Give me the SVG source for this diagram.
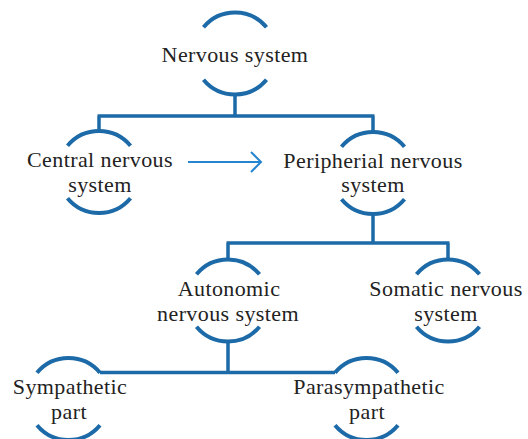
<svg xmlns="http://www.w3.org/2000/svg" xmlns:xlink="http://www.w3.org/1999/xlink" width="528" height="439" viewBox="0 0 528 439">
<style>
.br{fill:none;stroke:#1d6aa8;stroke-width:4;stroke-linecap:butt}
.cn{fill:none;stroke:#1d6aa8;stroke-width:3.5}
.ar{fill:none;stroke:#2784cf;stroke-width:2}
text{font-family:"Liberation Serif","Times New Roman",serif;font-size:22px;letter-spacing:0.4px;fill:#222;text-anchor:middle}
</style>
<defs>
<path id="bracket" d="M-31.5 -26.2 A41 41 0 0 1 31.5 -26.2 M-31.5 26.2 A41 41 0 0 0 31.5 26.2"/>
</defs>
<rect width="528" height="439" fill="#fff"/>
<g id="connectors">
<path class="cn" d="M235 94.5V116M97.5 116H374.5M99 116V131M373 116V132"/>
<path class="cn" d="M373 214V243M226.5 243H449.5M228 243V259.5M448 243V259.5"/>
<path class="cn" d="M228 341.5V372.5M100 372.5H335"/>
<path class="ar" d="M188 162H261M251 152L261 162L251 172"/>
</g>
<g id="n-nervous">
<use xlink:href="#bracket" class="br" x="235" y="53.5"/>
<text x="235" y="61.5">Nervous system</text>
</g>
<g id="n-central">
<use xlink:href="#bracket" class="br" x="99" y="172"/>
<text x="100" y="167">Central nervous</text>
<text x="100" y="191.5">system</text>
</g>
<g id="n-peripheral">
<use xlink:href="#bracket" class="br" x="373" y="173"/>
<text x="373" y="167.5">Peripherial nervous</text>
<text x="373" y="192">system</text>
</g>
<g id="n-autonomic">
<use xlink:href="#bracket" class="br" x="228" y="300.5"/>
<text x="229" y="296">Autonomic</text>
<text x="228" y="320.5">nervous system</text>
</g>
<g id="n-somatic">
<use xlink:href="#bracket" class="br" x="448" y="300.5"/>
<text x="446" y="296">Somatic nervous</text>
<text x="446" y="320.5">system</text>
</g>
<g id="n-sympathetic">
<use xlink:href="#bracket" class="br" x="68.5" y="399"/>
<text x="70" y="394">Sympathetic</text>
<text x="69" y="418.5">part</text>
</g>
<g id="n-parasympathetic">
<use xlink:href="#bracket" class="br" x="366.5" y="399"/>
<text x="369" y="394">Parasympathetic</text>
<text x="367" y="418.5">part</text>
</g>
</svg>
